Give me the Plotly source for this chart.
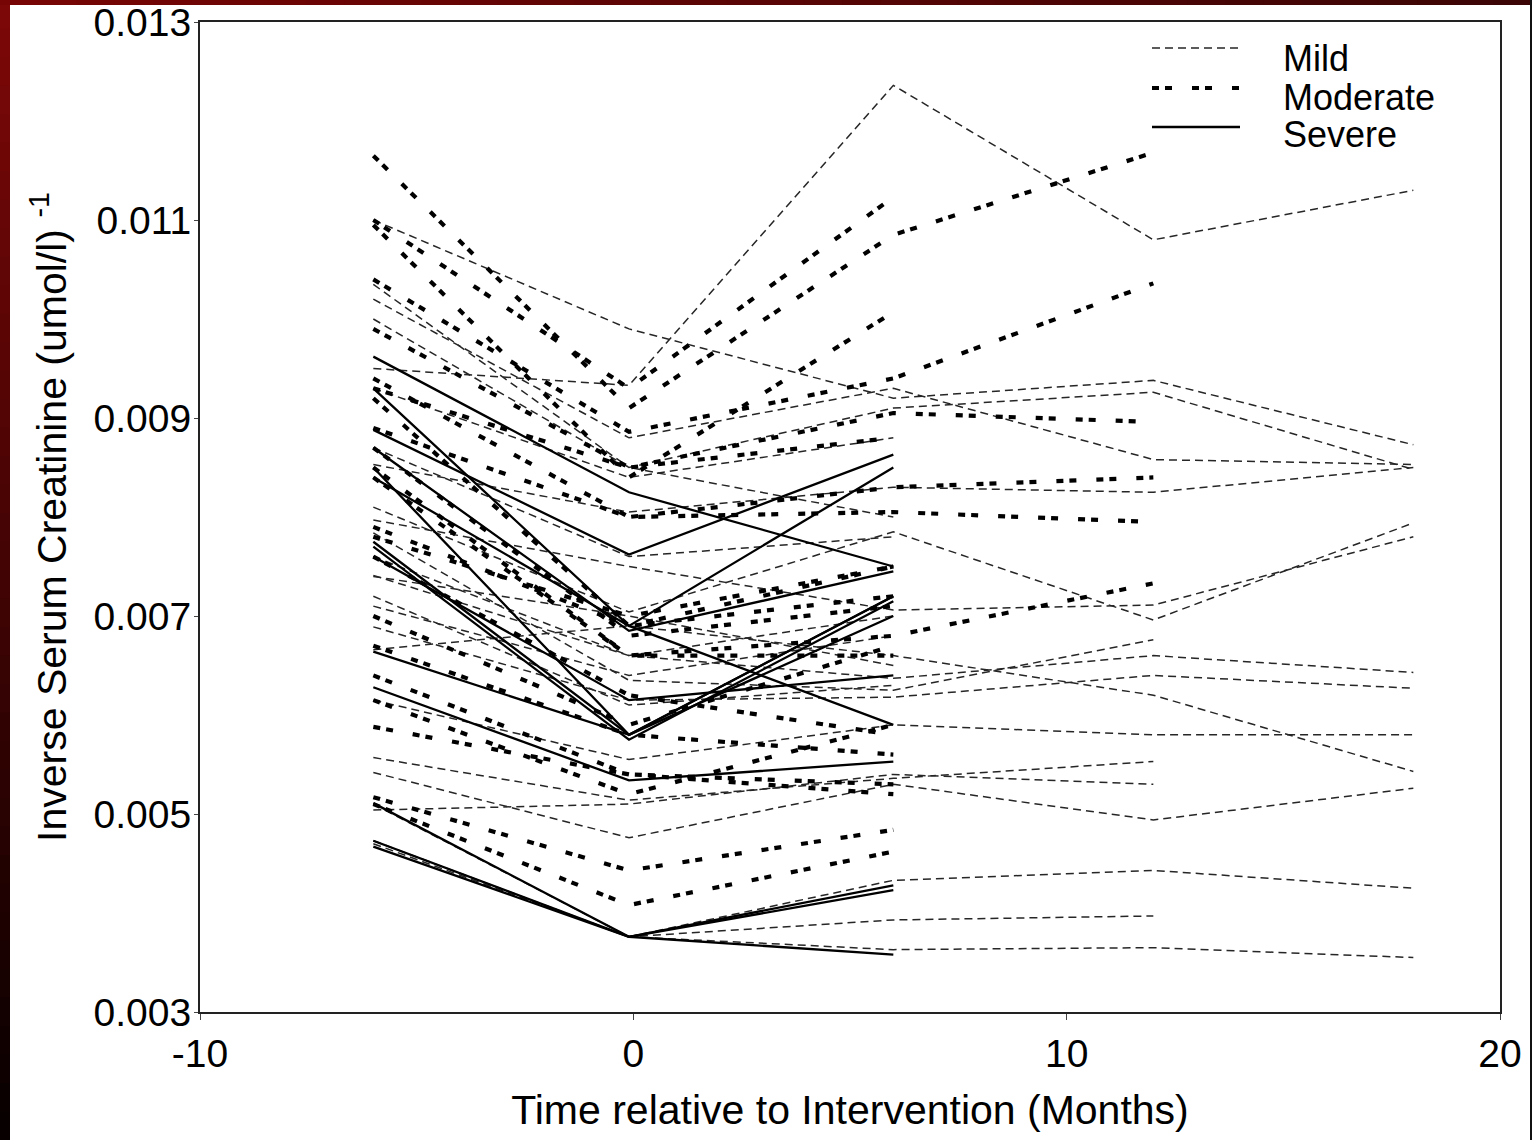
import plotly.graph_objects as go

W, H = 1532, 1140
ML, MR, MT, MB = 200, 32, 22, 128

# time points (months relative to intervention)
times = [-6, -0.1, 6, 12, 18]

# Inverse serum creatinine trajectories, one list per patient (values at successive time points)
mild = [
    [0.0095, 0.00933, 0.01236, 0.0108, 0.0113],
    [0.0110, 0.0099, 0.0092, 0.00938, 0.00873],
    [0.01035, 0.0085, 0.0091, 0.00926, 0.00848],
    [0.0102, 0.0088, 0.0093, 0.00858, 0.00853],
    [0.00853, 0.00805, 0.0083, 0.00825, 0.0085],
    [0.0081, 0.00704, 0.00785, 0.00696, 0.00794],
    [0.00797, 0.0075, 0.00706, 0.00711, 0.0078],
    [0.00784, 0.00635, 0.00625, 0.00676],
    [0.00741, 0.0066, 0.00637, 0.0066, 0.00643],
    [0.00689, 0.00615, 0.00618, 0.0064, 0.00627],
    [0.00666, 0.0069, 0.0066, 0.0062, 0.00543],
    [0.00615, 0.00555, 0.0059, 0.0058, 0.0058],
    [0.00557, 0.00514, 0.00536, 0.00553],
    [0.00542, 0.00476, 0.0053, 0.00494, 0.00526],
    [0.00504, 0.0051, 0.0054, 0.0053],
    [0.0047, 0.00376, 0.00433, 0.00443, 0.00425],
    [0.0051, 0.00376, 0.00393, 0.00397],
    [0.00473, 0.00376, 0.00363, 0.00365, 0.00355],
    [0.0093, 0.0084, 0.0088],
    [0.0087, 0.0076, 0.0078],
    [0.0072, 0.0061, 0.0063],
    [0.0076, 0.0066, 0.0070],
    [0.0100, 0.0085, 0.0080],
    [0.0071, 0.0064, 0.0068],
    [0.0074, 0.0070, 0.0065],
]

moderate = [
    [0.01165, 0.0091, 0.01085, 0.01168],
    [0.0110, 0.0093, 0.01123],
    [0.01095, 0.0084, 0.01007],
    [0.0104, 0.00886, 0.0094, 0.01036],
    [0.0093, 0.0085, 0.00905, 0.00896],
    [0.0094, 0.0080, 0.0083, 0.0084],
    [0.0089, 0.0080, 0.00805, 0.00795],
    [0.0092, 0.0069, 0.0075],
    [0.0085, 0.0066, 0.0068, 0.00733],
    [0.0087, 0.0068, 0.0071],
    [0.0084, 0.0066, 0.0066],
    [0.0079, 0.0069, 0.0072],
    [0.0076, 0.0062, 0.0058],
    [0.0070, 0.0059, 0.0067],
    [0.0067, 0.0058, 0.0056],
    [0.0064, 0.0054, 0.0053],
    [0.00615, 0.0052, 0.0059],
    [0.00517, 0.00443, 0.00484],
    [0.0051, 0.00408, 0.00462],
    [0.00588, 0.0054, 0.0052],
    [0.0078, 0.0070, 0.0075],
    [0.0099, 0.0085, 0.0088],
]

severe = [
    [0.00962, 0.00825, 0.0075],
    [0.00888, 0.00762, 0.00863],
    [0.0093, 0.0069, 0.0085],
    [0.0087, 0.00685, 0.00745],
    [0.0085, 0.0058, 0.0072],
    [0.0084, 0.0069, 0.0059],
    [0.00775, 0.0058, 0.0070],
    [0.0077, 0.00575, 0.00715],
    [0.0076, 0.00615, 0.0064],
    [0.00664, 0.0058, 0.0072],
    [0.00628, 0.00534, 0.00553],
    [0.00511, 0.00376, 0.00428],
    [0.00473, 0.00376, 0.00423],
    [0.00467, 0.00376, 0.00358],
]

groups = ["Mild", "Moderate", "Severe"]
x_ticks = [-10, 0, 10, 20]
y_ticks = [0.003, 0.005, 0.007, 0.009, 0.011, 0.013]
y_tick_labels = ["0.003", "0.005", "0.007", "0.009", "0.011", "0.013"]

styles = {
    "Mild": dict(color="#262626", width=1.5, dash="8px,5px"),
    "Moderate": dict(color="#000000", width=4.2, dash="7px,6px,7px,20px"),
    "Severe": dict(color="#000000", width=2.3, dash="solid"),
}

FONT = "Arial, Liberation Sans, Helvetica, sans-serif"

fig = go.Figure()
for name, data in zip(groups, [mild, moderate, severe]):
    for vals in data:
        fig.add_trace(go.Scatter(
            x=times[:len(vals)], y=vals, mode="lines",
            line=styles[name], showlegend=False, hoverinfo="skip",
        ))

pw = W - ML - MR
ph = H - MT - MB


def px(xpix):
    return (xpix - ML) / pw


def py(ypix):
    return (H - MB - ypix) / ph


shapes = []
# dark red / black frame strips (left and top), slightly overlapping to avoid seams
n = 40
for i in range(n):
    t = i / (n - 1)
    r = int(125 * (1 - t) + 8 * t)
    g = int(8 * (1 - t))
    b = int(8 * (1 - t))
    shapes.append(dict(type="rect", xref="paper", yref="paper",
                       x0=px(0), x1=px(10), y0=py(H * (i + 1) / n + 2), y1=py(H * i / n),
                       fillcolor=f"rgb({r},{g},{b})", line=dict(width=0), layer="above"))
for i in range(n):
    t = i / (n - 1)
    r = int(120 * (1 - t) + 60 * t)
    shapes.append(dict(type="rect", xref="paper", yref="paper",
                       x0=px(W * i / n), x1=px(W * (i + 1) / n + 2), y0=py(5), y1=py(0),
                       fillcolor=f"rgb({r},5,5)", line=dict(width=0), layer="above"))
shapes.append(dict(type="rect", xref="paper", yref="paper",
                   x0=px(W - 2), x1=px(W), y0=py(H), y1=py(0),
                   fillcolor="#111", line=dict(width=0), layer="above"))

# legend (drawn manually to match long samples)
annotations = []
leg_y_line = [48, 88, 127]
leg_y_text = [58, 97, 135]
for name, yl, yt in zip(groups, leg_y_line, leg_y_text):
    st = styles[name]
    shapes.append(dict(type="line", xref="paper", yref="paper",
                       x0=px(1152), x1=px(1240), y0=py(yl), y1=py(yl),
                       line=dict(color=st["color"], width=st["width"], dash=st["dash"])))
    annotations.append(dict(xref="paper", yref="paper", x=px(1281), y=py(yt),
                            text=name, showarrow=False, xanchor="left", yanchor="middle",
                            font=dict(family=FONT, size=36, color="#000")))

fig.update_layout(
    width=W, height=H,
    margin=dict(l=ML, r=MR, t=MT, b=MB, autoexpand=False),
    paper_bgcolor="white", plot_bgcolor="white",
    font=dict(family=FONT, color="#000"),
    shapes=shapes, annotations=annotations,
    showlegend=False,
)
fig.update_xaxes(
    range=[-10, 20], tickvals=x_ticks, ticktext=[str(v) for v in x_ticks],
    showgrid=False, zeroline=False, showline=True, linecolor="#222", linewidth=2, mirror=True,
    ticks="outside", ticklen=6, tickcolor="#444", tickfont=dict(size=39), automargin=False,
    title=dict(text="Time relative to Intervention (Months)", font=dict(size=41), standoff=22),
)
fig.update_yaxes(
    range=[0.003, 0.013], tickvals=y_ticks, ticktext=y_tick_labels,
    showgrid=False, zeroline=False, showline=True, linecolor="#222", linewidth=2, mirror=True,
    ticks="outside", ticklen=4, tickcolor="#444", tickfont=dict(size=39), automargin=False,
    ticklabelstandoff=-5,
    title=dict(text="Inverse Serum Creatinine (umol/l) <sup>-1</sup>", font=dict(size=41), standoff=14),
)

post = ("var gd=document.getElementById('{plot_id}');"
        "document.body.style.margin='0';document.body.style.padding='0';"
        "gd.style.position='fixed';gd.style.left='0px';gd.style.top='0px';")

fig.write_html("out.html", post_script=post, config={"displayModeBar": False})
